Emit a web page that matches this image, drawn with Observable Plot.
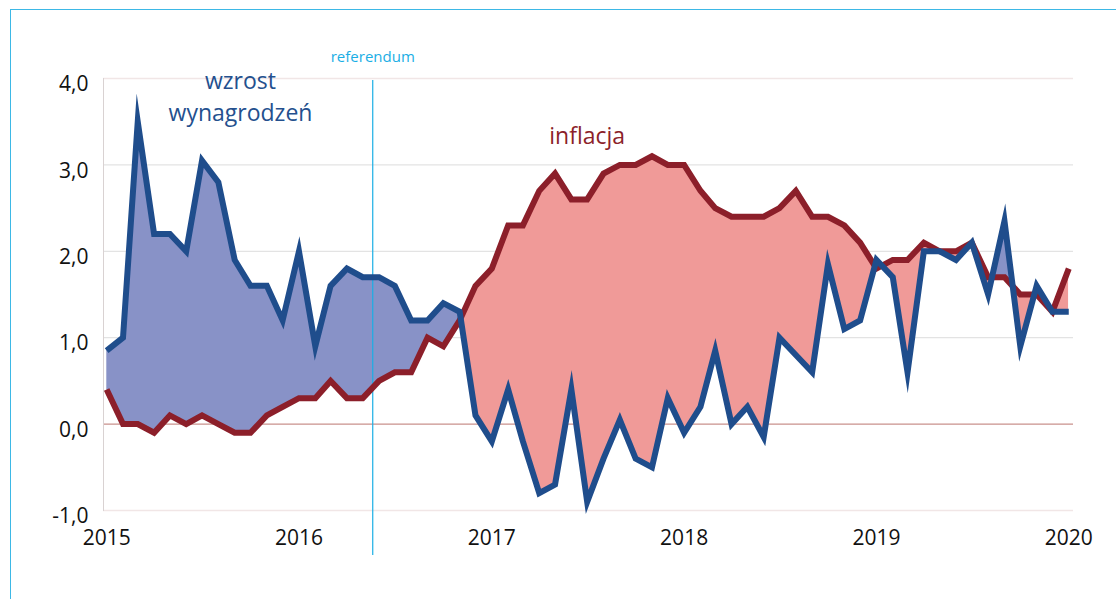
<!DOCTYPE html>
<html>
<head>
<meta charset="utf-8">
<script src="https://cdn.jsdelivr.net/npm/d3@7"></script>
<script src="https://cdn.jsdelivr.net/npm/@observablehq/plot@0.6"></script>
<style>
  html, body { margin: 0; padding: 0; background: #fff; }
  #wrap { position: relative; width: 1116px; height: 599px; overflow: hidden; }
  #wrap svg { position: absolute; left: 0; top: 0; }
  #border { position: absolute; left: 10px; top: 9px; width: 1200px; height: 700px;
            border-top: 1px solid #3db8e6; border-left: 1px solid #3db8e6; pointer-events: none; }
</style>
</head>
<body>
<div id="wrap"><div id="border"></div></div>
<script>
// Monthly series, Jan 2015 .. Jan 2020
const startYear = 2015;
const wage = [
  0.85, 1.0, 3.5, 2.2, 2.2, 2.0, 3.05, 2.8, 1.9, 1.6, 1.6, 1.2,
  2.0, 0.9, 1.6, 1.8, 1.7, 1.7, 1.6, 1.2, 1.2, 1.4, 1.3, 0.1,
  -0.2, 0.4, -0.2, -0.8, -0.7, 0.4, -0.9, -0.4, 0.05, -0.4, -0.5, 0.3,
  -0.1, 0.2, 0.85, 0.0, 0.2, -0.15, 1.0, 0.8, 0.6, 1.85, 1.1, 1.2,
  1.9, 1.7, 0.6, 2.0, 2.0, 1.9, 2.1, 1.5, 2.35, 0.9, 1.6, 1.3,
  1.3
];
const inflation = [
  0.4, 0.0, 0.0, -0.1, 0.1, 0.0, 0.1, 0.0, -0.1, -0.1, 0.1, 0.2,
  0.3, 0.3, 0.5, 0.3, 0.3, 0.5, 0.6, 0.6, 1.0, 0.9, 1.2, 1.6,
  1.8, 2.3, 2.3, 2.7, 2.9, 2.6, 2.6, 2.9, 3.0, 3.0, 3.1, 3.0,
  3.0, 2.7, 2.5, 2.4, 2.4, 2.4, 2.5, 2.7, 2.4, 2.4, 2.3, 2.1,
  1.8, 1.9, 1.9, 2.1, 2.0, 2.0, 2.1, 1.7, 1.7, 1.5, 1.5, 1.3,
  1.8
];
const yearTicks = [2015, 2016, 2017, 2018, 2019, 2020];
const yTicks = [-1, 0, 1, 2, 3, 4];
const referendumDate = new Date(Date.UTC(2016, 4, 20));
const labels = [
  {text: "wzrost", date: new Date(Date.UTC(2015, 8, 12)), value: 3.96, color: "#24508e"},
  {text: "wynagrodzeń", date: new Date(Date.UTC(2015, 8, 12)), value: 3.59, color: "#24508e"},
  {text: "inflacja", date: new Date(Date.UTC(2017, 6, 1)), value: 3.33, color: "#8c1f2a"}
];

const data = wage.map((w, i) => ({
  date: new Date(Date.UTC(startYear, i, 1)),
  wage: w,
  infl: inflation[i]
}));

const blueFill = "#8892c7";
const redFill = "#f09a98";
const fmt = d => d.toFixed(1).replace(".", ",");

let diffMarks;
if (typeof Plot.differenceY === "function") {
  diffMarks = [Plot.differenceY(data, {
    x: "date", y1: "infl", y2: "wage",
    positiveFill: blueFill, negativeFill: redFill,
    fillOpacity: 1, stroke: "none"
  })];
} else {
  diffMarks = [
    Plot.areaY(data, {x: "date", y1: "infl", y2: d => Math.max(d.wage, d.infl), fill: blueFill}),
    Plot.areaY(data, {x: "date", y1: "wage", y2: d => Math.max(d.wage, d.infl), fill: redFill})
  ];
}

const plot = Plot.plot({
  width: 1116,
  height: 599,
  marginLeft: 103,
  marginRight: 43,
  marginTop: 78,
  marginBottom: 89,
  style: {fontFamily: "'Open Sans', sans-serif", background: "transparent", overflow: "visible"},
  x: {type: "utc", domain: [new Date(Date.UTC(2014, 11, 26)), new Date(Date.UTC(2020, 0, 10))]},
  y: {domain: [-1, 4]},
  marks: [
    Plot.ruleY([1, 2, 3], {stroke: "#e3e3e3", strokeWidth: 1.2}),
    Plot.ruleY([4, -1], {stroke: "#f1e6e6", strokeWidth: 1.5}),
    Plot.ruleY([0], {stroke: "#c9918c", strokeWidth: 1.2}),
    Plot.frame({anchor: "left", stroke: "#d9d2d2"}),
    ...diffMarks,
    Plot.ruleX([referendumDate], {stroke: "#1aaee5", strokeWidth: 1.2, insetBottom: -45, insetTop: 2}),
    Plot.text([referendumDate], {x: d => d, y: [4], text: ["referendum"], dy: -21, fill: "#1aaee5", fontSize: 15}),
    Plot.lineY(data, {x: "date", y: "infl", stroke: "#8c1f2a", strokeWidth: 6,
      strokeLinejoin: "miter", strokeMiterlimit: 10, strokeLinecap: "butt"}),
    Plot.lineY(data, {x: "date", y: "wage", stroke: "#1f4d8c", strokeWidth: 6,
      strokeLinejoin: "miter", strokeMiterlimit: 10, strokeLinecap: "butt"}),
    Plot.text(labels, {x: "date", y: "value", text: "text", fill: "color", fontSize: 23}),
    Plot.axisX({ticks: yearTicks.map(y => new Date(Date.UTC(y, 0, 1))), tickFormat: "%Y", tickSize: 0, tickPadding: 20, fontSize: 21, fill: "#111"}),
    Plot.axisY({ticks: yTicks, tickFormat: fmt, tickSize: 0, tickPadding: 15, fontSize: 21, fill: "#111", dy: 6})
  ]
});
document.getElementById("wrap").prepend(plot);
</script>
</body>
</html>
